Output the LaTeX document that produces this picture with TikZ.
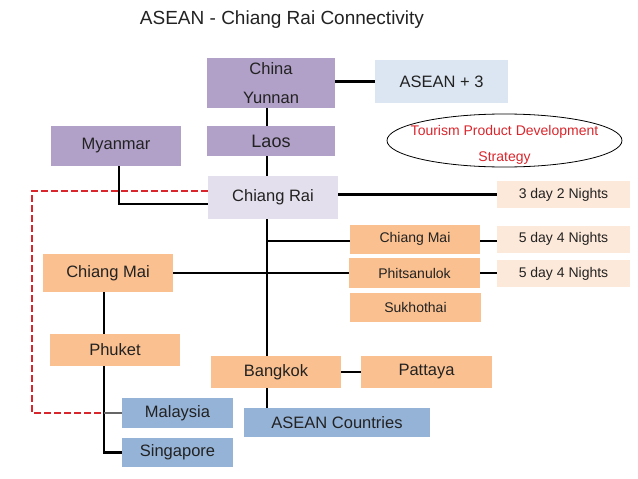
\documentclass[tikz,border=0pt]{standalone}
\usepackage{fontspec}
\setmainfont{Liberation Sans}
\usepackage{xcolor}
\usetikzlibrary{positioning, shapes.geometric, calc}

\definecolor{purplebox}{HTML}{B1A0C7}
\definecolor{lavender}{HTML}{E4DFEC}
\definecolor{orangebox}{HTML}{FAC090}
\definecolor{peach}{HTML}{FDE9D9}
\definecolor{bluebox}{HTML}{95B3D7}
\definecolor{paleblue}{HTML}{DCE6F2}
\definecolor{txt}{HTML}{222222}
\definecolor{strategyred}{HTML}{D9262C}

\begin{document}
\begin{tikzpicture}[
    x=1pt, y=-1pt,
    box/.style={rectangle, inner sep=0pt, align=center, text=txt, font=\fontsize{16.5}{19}\selectfont},
    smallbox/.style={box, font=\fontsize{14}{17}\selectfont},
    link/.style={draw=black, line width=2.2pt},
]
\useasboundingbox (0,0) rectangle (638,479);

% === Title ===
\node[text=txt, font=\fontsize{19}{22}\selectfont] (title) at (282,20) {ASEAN - Chiang Rai Connectivity};

% === Top column: China -> Laos -> Chiang Rai ===
\node[box, fill=purplebox, minimum width=128, minimum height=50, font=\fontsize{16.5}{29}\selectfont] (china) at (271,83) {China\\Yunnan};
\node[box, fill=paleblue, minimum width=133, minimum height=43] (asean3) at (441.5,81.5) {ASEAN + 3};
\node[box, fill=purplebox, minimum width=128, minimum height=30, font=\fontsize{18}{21}\selectfont] (laos) at (271,141) {Laos};
\node[box, fill=purplebox, minimum width=130, minimum height=40] (myanmar) at (116,146) {Myanmar};
\node[box, fill=lavender, minimum width=130, minimum height=43] (chiangrai) at (273,197.5) {Chiang Rai};

% --- Strategy ellipse ---
\node[draw, ellipse, line width=0.8pt, inner sep=0pt, minimum width=235, minimum height=53] (strategy) at (504.5,140.5) {};
\node[align=center, text=strategyred, font=\fontsize{14}{26}\selectfont] (strategytext) at ([yshift=-4.5pt]strategy.center) {Tourism Product Development\\Strategy};

% === Right side: routes ===
\node[smallbox, fill=peach, minimum width=133, minimum height=27] (nights1) at (563.5,194.5) {3 day 2 Nights};
\node[smallbox, fill=orangebox, minimum width=130, minimum height=29] (cmR) at (415,239) {Chiang Mai};
\node[smallbox, fill=peach, minimum width=133, minimum height=27] (nights2) at (563.5,239) {5 day 4 Nights};
\node[smallbox, fill=orangebox, minimum width=131, minimum height=30] (phits) at (414.5,273) {Phitsanulok};
\node[smallbox, fill=peach, minimum width=133, minimum height=27] (nights3) at (563.5,273.5) {5 day 4 Nights};
\node[smallbox, fill=orangebox, minimum width=131, minimum height=29] (sukho) at (415.5,307.5) {Sukhothai};

% === Left side ===
\node[box, fill=orangebox, minimum width=130, minimum height=38] (cmL) at (108,273) {Chiang Mai};
\node[box, fill=orangebox, minimum width=130, minimum height=32] (phuket) at (115,350) {Phuket};
\node[box, fill=bluebox, minimum width=111, minimum height=30] (malaysia) at (177.5,413) {Malaysia};
\node[box, fill=bluebox, minimum width=111, minimum height=29] (singapore) at (177.5,452.5) {Singapore};

% === Bottom ===
\node[box, fill=orangebox, minimum width=130, minimum height=32] (bangkok) at (276,372) {Bangkok};
\node[box, fill=orangebox, minimum width=131, minimum height=32] (pattaya) at (426.5,372) {Pattaya};
\node[box, fill=bluebox, minimum width=186, minimum height=29] (aseanc) at (337,422.5) {ASEAN Countries};

% --- Axes for the vertical lines ---
\coordinate (axis) at (267,0);
\coordinate (westaxis) at (104,0);
\coordinate (dashcorner) at (32,0);

% --- Connectors ---
\draw[link] (asean3.west) -- (asean3.west -| china.east);
\draw[link] (china.south -| axis) -- (laos.north -| axis);
\draw[link] (laos.south -| axis) -- (chiangrai.north -| axis);
\draw[link] (chiangrai.south -| axis) -- (bangkok.north -| axis);
\draw[link] (bangkok.south -| axis) -- (aseanc.north -| axis);
\draw[link] (myanmar.south -| {(119,0)}) |- ([yshift=-6.5pt]chiangrai.west);
\draw[link] (nights1.west) -- (nights1.west -| chiangrai.east);
\draw[link] ([yshift=-2pt]cmR.west) -- ([yshift=-2pt]cmR.west -| axis);
\draw[link] ([yshift=-2pt]cmR.east) -- ([yshift=-2pt]nights2.west);
\draw[link] (cmL.east) -- (phits.west);
\draw[link] (phits.east) -- (phits.east -| nights3.west);
\draw[link] (bangkok.east) -- (pattaya.west);
\draw[link] (cmL.south -| westaxis) -- (phuket.north -| westaxis);
\draw[link] (phuket.south -| westaxis) |- (singapore.west);
\draw[line width=2.2pt, draw=gray!80!black] (malaysia.west -| westaxis) -- (malaysia.west);

% --- Red dashed link Chiang Rai -> Malaysia ---
\draw[strategyred, line width=2.2pt, dash pattern=on 7pt off 3pt]
    ([yshift=6.5pt]chiangrai.west) -| (dashcorner |- malaysia.west) -- (malaysia.west -| westaxis);

\end{tikzpicture}
\end{document}
